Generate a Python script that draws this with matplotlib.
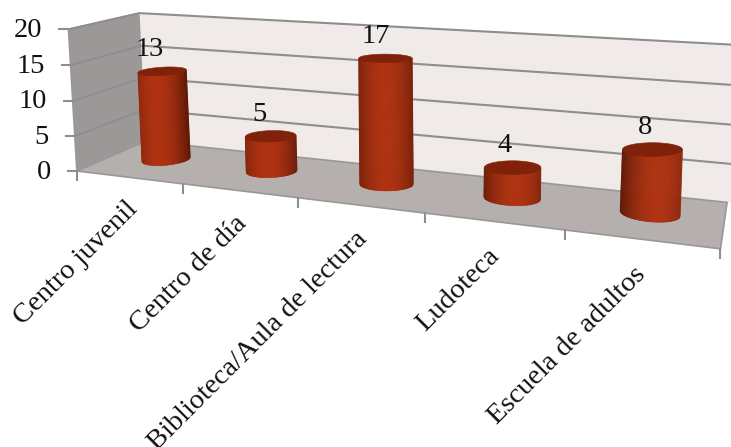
import matplotlib
matplotlib.use("Agg")
import matplotlib.pyplot as plt
import numpy as np
from matplotlib.collections import PolyCollection
from matplotlib.colors import to_rgb
from matplotlib.patches import Polygon

categories = ["Centro juvenil", "Centro de día", "Biblioteca/Aula de lectura",
              "Ludoteca", "Escuela de adultos"]
values = [13, 5, 17, 4, 8]
y_ticks = [0, 5, 10, 15, 20]

WIDTH, HEIGHT = 731, 447
N = len(categories)
Y_MAX = 20
FONT_SIZE = 20.5
GRID = "#8e8e8e"

# Box corners and ticks as (category pos, depth, value) -> pixel,
# used to fit the 3D projection of the box
calib = [
    (0, 0, 0, 80, 169), (0, 1, 0, 141, 143), (5, 0, 0, 721, 250),
    (5, 1, 0, 728, 200), (0, 0, 20, 65, 29), (0, 1, 20, 144, 13),
    (5, 1, 20, 734, 45), (1, 0, 0, 184, 183), (2, 0, 0, 299, 198),
    (3, 0, 0, 425, 214), (4, 0, 0, 564, 231), (0, 0, 5, 76, 136),
    (0, 0, 10, 72.7, 100.7), (0, 0, 15, 69, 66),
]


def fit_projection(points):
    rows = []
    for u, d, v, px, py in points:
        rows.append([u, d, v, 1, 0, 0, 0, 0, -px*u, -px*d, -px*v, -px])
        rows.append([0, 0, 0, 0, u, d, v, 1, -py*u, -py*d, -py*v, -py])
    return np.linalg.svd(np.array(rows, dtype=float))[2][-1].reshape(3, 4)


P = fit_projection(calib)


def project(u, d, v):
    q = P @ np.array([u, d, v, 1.0])
    return q[0]/q[2], q[1]/q[2]


def face(points, color, edge="#999797"):
    ax.add_patch(Polygon([project(*p) for p in points], closed=True, fc=color,
                         ec=edge, lw=1.2, zorder=1))


def line3d(a, b):
    pa, pb = project(*a), project(*b)
    ax.plot([pa[0], pb[0]], [pa[1], pb[1]], color=GRID, lw=1.5, zorder=2,
            solid_capstyle="butt")


def ellipse_edge(centre, hw, hh, slope, t, sign):
    return (centre[0] + t*hw,
            centre[1] + slope*t*hw + sign*hh*np.sqrt(max(0.0, 1 - t*t)))


def cylinder(i, value, dc=0.55):
    # Drum drawn on screen: the ends stay nearly level, only the centres
    # come from the projection
    dark = np.array(to_rgb("#5c1805"))
    bright = np.array(to_rgb("#ae3211"))
    u = i + 0.5
    ru = 0.24 - 0.008*i
    rd = 0.19
    lean = i - (N - 1)/2
    bottom = project(u, dc, 0)
    top = project(u, dc, value)
    hw = (project(u + ru, dc, 0)[0] - project(u - ru, dc, 0)[0])/2
    hh_bottom = (project(u, dc - rd, 0)[1] - project(u, dc + rd, 0)[1])/2
    hh_top = (project(u, dc - rd, value)[1] - project(u, dc + rd, value)[1])/2
    slope_bottom = 0.045*lean
    slope_top = min(0.0, 0.03*lean)
    centre_light = 0.12*lean

    ts = np.linspace(-1, 1, 81)
    quads, colors = [], []
    for t0, t1 in zip(ts[:-1], ts[1:]):
        quads.append([ellipse_edge(top, hw, hh_top, slope_top, t0, 0),
                      ellipse_edge(top, hw, hh_top, slope_top, t1, 0),
                      ellipse_edge(bottom, hw, hh_bottom, slope_bottom, t1, 1),
                      ellipse_edge(bottom, hw, hh_bottom, slope_bottom, t0, 1)])
        shade = max(0.0, 1 - (((t0 + t1)/2 - centre_light)/1.25)**2)
        colors.append(dark + (bright - dark)*shade)
    ax.add_collection(PolyCollection(quads, facecolors=colors, edgecolors=colors,
                                     linewidths=0.4, zorder=4))
    cap = [ellipse_edge(top, hw, hh_top, slope_top, t, 1) for t in ts]
    cap += [ellipse_edge(top, hw, hh_top, slope_top, t, -1) for t in ts[::-1]]
    ax.add_patch(Polygon(cap, closed=True, fc="#7f2209", ec="#7f2209", lw=0.4,
                         zorder=5))
    return top


plt.rcParams["font.family"] = ["Liberation Serif", "DejaVu Serif"]

fig = plt.figure(figsize=(WIDTH/100, HEIGHT/100), dpi=100)
ax = fig.add_axes([0, 0, 1, 1])
ax.set_xlim(0, WIDTH)
ax.set_ylim(HEIGHT, 0)
ax.axis("off")

# Walls and floor, back wall runs off the right of the picture
right = N + 0.1
face([(0, 0, 0), (0, 1, 0), (0, 1, Y_MAX), (0, 0, Y_MAX)], "#9c9898")
face([(0, 1, 0), (right, 1, 0), (right, 1, Y_MAX), (0, 1, Y_MAX)], "#f0eae8",
     edge="none")
face([(0, 0, 0), (N, 0, 0), (N, 1, 0), (0, 1, 0)], "#b5b0ae")

# Gridlines run along the side wall and then the back wall
for t in y_ticks[1:]:
    line3d((0, 0, t), (0, 1, t))
    line3d((0, 1, t), (right, 1, t))

for t in y_ticks:
    x, y = project(0, 0, t)
    ax.plot([x - 9, x], [y, y], color=GRID, lw=1.5, zorder=2)
    ax.text(x - 26, y + 1, str(t), ha="right", va="center", fontsize=FONT_SIZE,
            color="#111111", zorder=6)

for i in range(N + 1):
    x, y = project(i, 0, 0)
    ax.plot([x, x], [y, y + 9], color=GRID, lw=1.5, zorder=2)

for i, (name, val) in enumerate(zip(categories, values)):
    cx, cy = cylinder(i, val)
    ax.text(cx - 12 + 1.2*i, cy - 22, str(val), ha="center", va="center",
            fontsize=FONT_SIZE, color="#111111", zorder=6)
    x, y = project(i + 0.5, 0, 0)
    ax.text(x - 4 - i, y + 19 + i, name, rotation=45, rotation_mode="anchor",
            ha="right", va="top", fontsize=FONT_SIZE, color="#111111", zorder=6)

fig.savefig("out.png", dpi=100)
